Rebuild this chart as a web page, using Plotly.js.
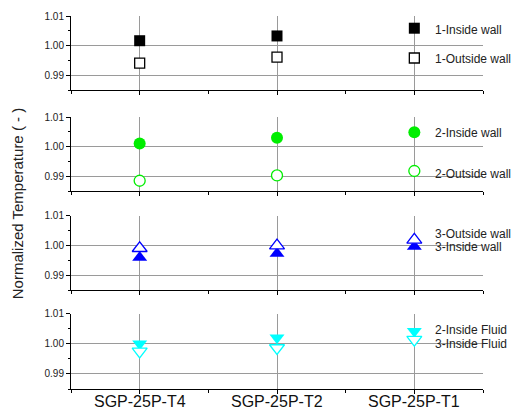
<!DOCTYPE html>
<html>
<head>
<meta charset="utf-8">
<script src="https://cdn.plot.ly/plotly-3.0.1.min.js"></script>
<style>
html,body{margin:0;padding:0;background:#fff;}
#chart{width:514px;height:410px;}
</style>
</head>
<body>
<div id="chart"></div>
<script>
// ---- data ----
const categories = ['SGP-25P-T4', 'SGP-25P-T2', 'SGP-25P-T1'];
const yTickLabels = ['0.99', '1.00', '1.01'];

const inside1Wall  = [1.0017, 1.0033, 1.0059];
const outside1Wall = [0.9942, 0.9962, 0.9959];
const inside2Wall  = [1.0011, 1.0030, 1.0049];
const outside2Wall = [0.9885, 0.9903, 0.9918];
const inside3Wall  = [0.9960, 0.9973, 0.9997];
const outside3Wall = [0.9991, 1.0000, 1.0019];
const inside2Fluid = [1.0000, 1.0020, 1.0042];
const inside3Fluid = [0.9975, 0.9986, 1.0014];

const seriesNames = ['1-Inside wall', '1-Outside wall', '2-Inside wall', '2-Outside wall',
                     '3-Outside wall', '3-Inside wall', '2-Inside Fluid', '3-Inside Fluid'];
const yTitle = 'Normalized Temperature ( - )';

// ---- build ----
const xIdx = categories.map((c, i) => i);
const FONT = 'Liberation Sans, Arial, sans-serif';

function tr(vals, name, ax, symbol, color, filled, size) {
  return {
    x: xIdx, y: vals, name: name, mode: 'markers', showlegend: false, cliponaxis: false,
    xaxis: 'x' + ax, yaxis: 'y' + ax,
    marker: {
      symbol: symbol, size: size,
      color: filled ? color : '#ffffff',
      line: {color: color, width: filled ? 0 : 1.3}
    }
  };
}

const data = [
  tr(inside1Wall,  seriesNames[0], '',  'square', '#000000', true, 11),
  tr(outside1Wall, seriesNames[1], '',  'square', '#000000', false, 10),
  tr(inside2Wall,  seriesNames[2], '2', 'circle', '#00ee00', true, 12),
  tr(outside2Wall, seriesNames[3], '2', 'circle', '#00ee00', false, 11),
  tr(inside3Wall,  seriesNames[5], '3', 'triangle-up', '#0000ff', true, 13),
  tr(outside3Wall, seriesNames[4], '3', 'triangle-up', '#0000ff', false, 13),
  tr(inside2Fluid, seriesNames[6], '4', 'triangle-down', '#00ffff', true, 13),
  tr(inside3Fluid, seriesNames[7], '4', 'triangle-down', '#00ffff', false, 13)
];

const domains = [[0.8004, 1.0], [0.5305, 0.7288], [0.2645, 0.4646], [0.0, 0.202]];
const layout = {
  width: 514, height: 410,
  margin: {l: 71, r: 31.3, t: 15.5, b: 21.3},
  paper_bgcolor: '#ffffff', plot_bgcolor: '#ffffff',
  font: {family: FONT, color: '#222222', size: 10},
  showlegend: false,
  annotations: []
};

const axNames = ['', '2', '3', '4'];
axNames.forEach((a, k) => {
  const xa = 'xaxis' + a, ya = 'yaxis' + a;
  layout[xa] = {
    domain: [0, 1], anchor: 'y' + a, range: [-0.5, 2.5],
    tickmode: 'array', tickvals: xIdx, ticktext: categories,
    showticklabels: false,
    ticks: 'outside', ticklen: 4, tickcolor: '#000', tickwidth: 1,
    minor: {tickmode: 'linear', tick0: -0.5, dtick: 0.5, ticks: 'outside', ticklen: 3, tickcolor: '#000', showgrid: false},
    showline: true, linecolor: '#000', linewidth: 1,
    showgrid: true, gridcolor: '#9a9a9a', gridwidth: 1, zeroline: false,
    fixedrange: true
  };
  layout[ya] = {
    domain: domains[k], anchor: 'x' + a, range: [0.985, 1.01],
    tickmode: 'array', tickvals: yTickLabels.map(Number), ticktext: yTickLabels,
    tickfont: {size: 10, color: '#222', family: FONT},
    ticks: 'outside', ticklen: 4, tickcolor: '#000', tickwidth: 1,
    minor: {tickmode: 'linear', tick0: 0.985, dtick: 0.005, ticks: 'outside', ticklen: 2, tickcolor: '#000', showgrid: false},
    showline: true, linecolor: '#000', linewidth: 1,
    showgrid: true, gridcolor: '#9a9a9a', gridwidth: 1, zeroline: false,
    fixedrange: true
  };
});

// category labels under the bottom panel
categories.forEach((c, i) => {
  layout.annotations.push({
    text: c, xref: 'x4', yref: 'paper', x: xIdx[i], y: -0.034,
    xanchor: 'center', yanchor: 'middle', showarrow: false,
    font: {size: 16, color: '#111111', family: FONT}
  });
});

// legend-like labels (order as in reference)
const labelPos = [
  [seriesNames[0], 0.9638], [seriesNames[1], 0.8835],
  [seriesNames[2], 0.6870], [seriesNames[3], 0.5772],
  [seriesNames[4], 0.4164], [seriesNames[5], 0.3805],
  [seriesNames[6], 0.1592], [seriesNames[7], 0.1206]
];
labelPos.forEach(([t, y]) => {
  layout.annotations.push({
    text: t, xref: 'paper', yref: 'paper', x: 0.879, y: y,
    xanchor: 'left', yanchor: 'middle', showarrow: false,
    font: {size: 12, color: '#222222', family: FONT}
  });
});

layout.annotations.push({
  text: yTitle, xref: 'paper', yref: 'paper', x: -0.129, y: 0.4976,
  xanchor: 'center', yanchor: 'middle', textangle: -90, showarrow: false,
  font: {size: 15, color: '#222222', family: FONT}
});

Plotly.newPlot('chart', data, layout, {displayModeBar: false, staticPlot: true});
</script>
</body>
</html>
